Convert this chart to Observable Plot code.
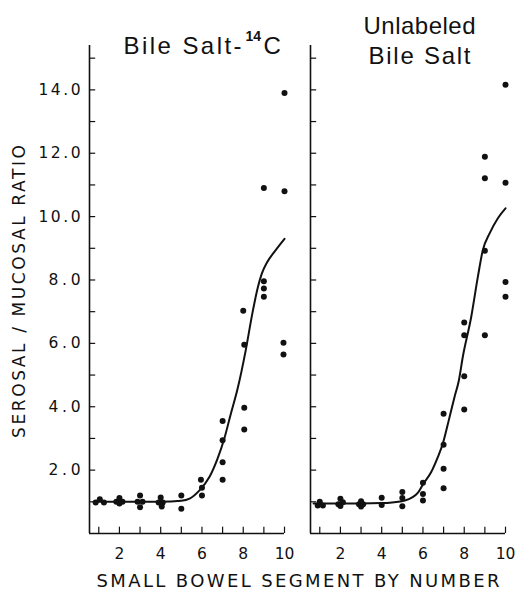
<!DOCTYPE html>
<html><head><meta charset="utf-8">
<script src="https://cdn.jsdelivr.net/npm/d3@7"></script>
<script src="https://cdn.jsdelivr.net/npm/@observablehq/plot@0.6"></script>
<style>
body{margin:0;background:#fff;}
#chart svg{font-family:"DejaVu Sans",sans-serif;}
</style></head><body><div id="chart"></div>
<script>
// ---- data ----
const panels = ["labeled", "unlabeled"];

const labeledSegment = [0.85,1.05,1.25, 1.85,2.0,2.15,2.0, 3.0,2.88,3.12,3.0, 4.0,3.9,4.1,4.05, 5.0,5.0, 5.95,6.0,6.0, 7.0,7.0,7.0,7.0, 8.0,8.05,8.05,8.05, 9.0,9.0,9.0,9.0, 10.0,10.0,9.95,9.95];
const labeledRatio   = [0.98,1.08,0.98, 1.0,1.12,1.0,0.95, 1.20,1.0,1.0,0.83, 1.14,0.98,0.98,0.85, 1.20,0.78, 1.70,1.44,1.20, 3.55,2.94,2.25,1.70, 7.03,5.96,3.97,3.28, 10.9,7.96,7.73,7.47, 13.9,10.8,6.02,5.65];

const unlabeledSegment = [0.9,1.0,1.15, 1.9,2.0,2.0,2.12, 2.9,3.0,3.0,3.1, 4.0,4.0, 5.0,5.0,5.0, 6.0,6.0,6.0, 7.0,7.0,7.0,7.0, 8.0,8.0,8.0,8.0, 9.0,9.0,9.0,9.0, 10.0,10.0,10.0,10.0];
const unlabeledRatio   = [0.88,1.0,0.88, 0.92,1.10,0.87,0.99, 0.92,1.02,0.85,0.92, 1.13,0.90, 1.31,1.12,0.86, 1.60,1.25,1.04, 3.78,2.80,2.04,1.43, 6.66,6.26,4.96,3.91, 11.89,11.21,8.92,6.26, 14.16,11.07,7.94,7.47];

const labeledCurveSegment = [0.75,2,3,4,5,5.4,5.88,6.36,6.76,7.08,7.4,7.72,8.12,8.44,8.7,8.9,9.15,9.5,10.0];
const labeledCurveRatio   = [1.0,1.0,1.0,1.0,1.03,1.10,1.36,1.78,2.37,2.99,3.78,4.55,5.78,6.94,7.75,8.2,8.55,8.88,9.3];

const unlabeledCurveSegment = [0.7,2,3,4,4.5,5.12,5.77,6.0,6.4,6.72,6.96,7.25,7.53,7.74,7.93,8.34,8.66,8.9,9.23,9.63,10.0];
const unlabeledCurveRatio   = [0.95,0.95,0.95,0.96,0.98,1.04,1.3,1.55,1.94,2.41,2.83,3.57,4.31,4.83,5.57,6.84,8.10,8.94,9.47,9.95,10.26];

const xDomain = [0.55, 10];
const yDomain = [0, 15.4];
const yTickValues = [1,2,3,4,5,6,7,8,9,10,11,12,13,14,15];
const yLabelValues = [2,4,6,8,10,12,14];
const xTickValues = [1,2,3,4,5,6,7,8,9,10];
const xLabelValues = [2,4,6,8,10];

const yTitle = "SEROSAL / MUCOSAL RATIO";
const xTitle = "SMALL BOWEL SEGMENT BY NUMBER";
const leftTitleMain = "Bile Salt-";
const leftTitleSup = "14";
const leftTitleEnd = "C";
const rightTitleLines = ["Unlabeled", "Bile Salt"];

// ---- tables ----
const points = [
  ...labeledSegment.map((x, i) => ({panel: "labeled", x, y: labeledRatio[i]})),
  ...unlabeledSegment.map((x, i) => ({panel: "unlabeled", x, y: unlabeledRatio[i]}))
];
const curves = [
  ...labeledCurveSegment.map((x, i) => ({panel: "labeled", x, y: labeledCurveRatio[i]})),
  ...unlabeledCurveSegment.map((x, i) => ({panel: "unlabeled", x, y: unlabeledCurveRatio[i]}))
];
const ink = "#111";
const titleFont = "'Liberation Sans', sans-serif";

const plot = Plot.plot({
  width: 515, height: 590,
  marginLeft: 89, marginRight: 10, marginTop: 45, marginBottom: 57,
  style: {fontFamily: "'DejaVu Sans', sans-serif", fontSize: "16px", color: ink, background: "#fff", overflow: "visible"},
  fx: {domain: panels, paddingInner: 0.1176, paddingOuter: 0, round: false, axis: null},
  x: {domain: xDomain},
  y: {domain: yDomain},
  marks: [
    Plot.ruleX([xDomain[0]], {stroke: ink, strokeWidth: 1.6}),
    Plot.ruleY([yDomain[0]], {stroke: ink, strokeWidth: 1.6}),
    Plot.ruleY(yTickValues, {x1: xDomain[0], x2: xDomain[0] + 0.3, stroke: ink, strokeWidth: 1.2}),
    Plot.ruleX(xTickValues, {y1: 0, y2: 0.2, stroke: ink, strokeWidth: 1.2}),
    Plot.axisY(yLabelValues, {tickSize: 0, tickPadding: 9, tickFormat: d => d.toFixed(1), label: null, fontSize: 15.5}),
    Plot.axisX(xLabelValues, {tickSize: 0, tickPadding: 14, label: null, fontSize: 15.5}),
    Plot.line(curves, {fx: "panel", x: "x", y: "y", curve: "monotone-x", stroke: ink, strokeWidth: 2}),
    Plot.dot(points, {fx: "panel", x: "x", y: "y", r: 3, fill: ink}),
    Plot.text([{panel: "labeled", t: leftTitleMain}], {fx: "panel", text: "t", frameAnchor: "top-left", textAnchor: "end", lineAnchor: "bottom", dx: 152, dy: 8, fontSize: 24, fontFamily: titleFont}),
    Plot.text([{panel: "labeled", t: leftTitleSup}], {fx: "panel", text: "t", frameAnchor: "top-left", textAnchor: "start", lineAnchor: "bottom", dx: 156, dy: -5, fontSize: 14, fontWeight: "bold", fontFamily: titleFont}),
    Plot.text([{panel: "labeled", t: leftTitleEnd}], {fx: "panel", text: "t", frameAnchor: "top-left", textAnchor: "start", lineAnchor: "bottom", dx: 174, dy: 8, fontSize: 24, fontFamily: titleFont}),
    Plot.text([{panel: "unlabeled", t: rightTitleLines[0]}], {fx: "panel", text: "t", frameAnchor: "top-left", textAnchor: "middle", lineAnchor: "bottom", dx: 109, dy: -12, fontSize: 24, fontFamily: titleFont}),
    Plot.text([{panel: "unlabeled", t: rightTitleLines[1]}], {fx: "panel", text: "t", frameAnchor: "top-left", textAnchor: "middle", lineAnchor: "bottom", dx: 109, dy: 18, fontSize: 24, fontFamily: titleFont}),
    Plot.text([{panel: "labeled", t: yTitle}], {fx: "panel", text: "t", frameAnchor: "left", textAnchor: "middle", lineAnchor: "middle", rotate: -90, dx: -70, dy: 2, fontSize: 17}),
    Plot.text([{panel: "labeled", t: xTitle}], {fx: "panel", text: "t", frameAnchor: "bottom", lineAnchor: "bottom", dx: 111, dy: 53, fontSize: 18})
  ]
});
document.getElementById("chart").appendChild(plot);

// fit text spans to the reference lettering widths
const fitWidths = new Map([
  [yTitle, 293], [xTitle, 403], [leftTitleMain, 118],
  [rightTitleLines[0], 112], [rightTitleLines[1], 102]
]);
d3.select(plot).selectAll("text").each(function () {
  const t = this.textContent;
  if (fitWidths.has(t)) d3.select(this).attr("textLength", fitWidths.get(t)).attr("lengthAdjust", "spacing");
  else if (/^\d+\.\d$/.test(t)) d3.select(this).attr("textLength", t.length === 4 ? 42 : 32).attr("lengthAdjust", "spacing");
});
</script></body></html>
